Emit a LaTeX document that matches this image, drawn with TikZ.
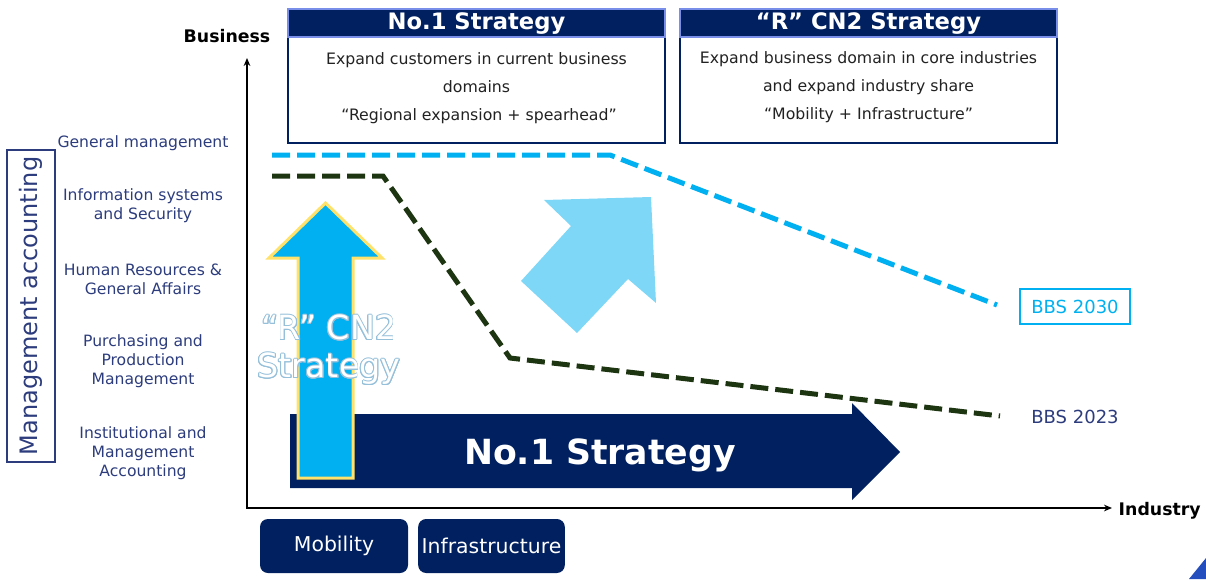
\documentclass[tikz,border=0pt]{standalone}
\usepackage{fontspec}
\setmainfont{DejaVu Sans}
\usetikzlibrary{arrows.meta}

\definecolor{navy}{RGB}{0,32,96}
\definecolor{hdrline}{RGB}{120,142,232}
\definecolor{labelblue}{RGB}{44,60,124}
\definecolor{bodygray}{RGB}{34,34,34}
\definecolor{cyanline}{RGB}{0,176,240}
\definecolor{darkgreen}{RGB}{30,53,18}
\definecolor{skyarrow}{RGB}{127,215,247}
\definecolor{goldline}{RGB}{255,226,107}
\definecolor{outlineblue}{RGB}{150,192,218}
\definecolor{cornerblue}{RGB}{36,78,190}

\tikzset{
  axisline/.style={line width=1.5pt, black, {Stealth[length=6pt,width=5pt]}-{Stealth[length=6pt,width=5pt]}},
  axistitle/.style={font=\fontsize{13}{15}\selectfont\bfseries, text=black},
  lbl/.style={text=labelblue, align=center, font=\fontsize{11.7}{14.25}\selectfont},
  hdrbar/.style={fill=navy, draw=hdrline, line width=1.2pt},
  bodybox/.style={fill=white, draw=navy, line width=1.5pt},
  bodytxt/.style={text=bodygray, align=center, font=\fontsize{11.8}{21}\selectfont},
  hdrtxt/.style={text=white, font=\fontsize{17}{20}\selectfont\bfseries},
  series2030/.style={cyanline, line width=3.75pt, dash pattern=on 13.5pt off 5.25pt},
  series2023/.style={darkgreen, line width=3.75pt, dash pattern=on 13.5pt off 5.25pt},
  industrybox/.style={fill=navy, rounded corners=6pt, text=white, minimum height=40.5pt,
    font=\fontsize{15.3}{18}\selectfont, inner sep=0pt},
  otxt/.style={align=center, font=\fontsize{25}{28.5}\selectfont},
}

\begin{document}
\begin{tikzpicture}[x=0.75pt,y=-0.75pt]
\useasboundingbox (0,0) rectangle (1206,579);

% axes
\coordinate (origin) at (247,508);
\coordinate (ytip) at (247,58);
\coordinate (xtip) at (1112,508);
\draw[axisline] (ytip) -- (origin) -- (xtip);
\node[axistitle] (business) at (227,36) {Business};
\node[axistitle, anchor=west] (industry) at (1114,511) {Industry};

% management accounting frame and its functions
\node[draw=labelblue, line width=1.1pt, minimum width=36pt, minimum height=234pt,
      inner sep=0pt] (mgmtbox) at (31,306) {};
\node[text=labelblue, rotate=90, font=\fontsize{18}{20}\selectfont] (mgmt) at (31,306) {Management accounting};
\node[lbl] (gm) at (143,143) {General management};
\node[lbl] (iss) at (143,206) {Information systems\\and Security};
\node[lbl] (hr) at (143,279) {Human Resources \&\\General Affairs};
\node[lbl] (ppm) at (143,361) {Purchasing and\\Production\\Management};
\node[lbl] (ima) at (143,453) {Institutional and\\Management\\Accounting};

% strategy boxes
\draw[bodybox] (288,37) rectangle (665,143);
\draw[hdrbar] (288,9) rectangle (665,37);
\node[hdrtxt, anchor=base] (nohdr) at (476.5,29) {No.1 Strategy};
\node[bodytxt] (notxt) at (476.5,88) {Expand customers in current business\\domains\\\ “Regional expansion + spearhead”};

\draw[bodybox] (680,37) rectangle (1057,143);
\draw[hdrbar] (680,9) rectangle (1057,37);
\node[hdrtxt, anchor=base] (rhdr) at (868.5,29) {“R” CN2 Strategy};
\node[bodytxt] (rtxt) at (868.5,87) {Expand business domain in core industries\\and expand industry share\\“Mobility + Infrastructure”};

% No.1 strategy arrow
\fill[navy] (290,414) -- (852,414) -- (852,403) -- (900,452) -- (852,500) -- (852,488) -- (290,488) -- cycle;
\node[text=white, font=\fontsize{26}{30}\selectfont\bfseries, anchor=base] (nobig) at (600,464) {No.1 Strategy};

% "R" CN2 strategy arrow
\filldraw[fill=cyanline, draw=goldline, line width=2.25pt, line join=miter]
  (298,478) -- (298,258) -- (269,258) -- (325.5,203) -- (382,258) -- (353,258) -- (353,478) -- cycle;
\foreach \a in {0,22.5,...,337.5}
  \node[otxt, text=outlineblue, shift={(\a:0.7pt)}] at (329,350) {“R” CN2\\Strategy};
\node[otxt, text=white] (rvert) at (329,350) {“R” CN2\\Strategy};

% diagonal growth arrow
\fill[skyarrow] (544,200) -- (651,197) -- (656,303) -- (628,279) -- (577,333) -- (521,281) -- (571,226) -- cycle;

% BBS series
\coordinate (c0) at (272,155);
\coordinate (c1) at (610,155);
\coordinate (c2) at (997,305);
\draw[series2030] (c0) -- (c1) -- (c2);
\coordinate (g0) at (272,176);
\coordinate (g1) at (383,176);
\coordinate (g2) at (510,358);
\coordinate (g3) at (1000,416);
\draw[series2023] (g0) -- (g1) -- (g2) -- (g3);
\node[draw=cyanline, line width=1.1pt, minimum width=82.5pt, minimum height=26.25pt,
      text=cyanline, font=\fontsize{13.5}{15}\selectfont] (bbs30) at (1075,306.5) {BBS 2030};
\node[text=labelblue, font=\fontsize{13.5}{15}\selectfont] (bbs23) at (1075,417) {BBS 2023};

% industries
\node[industrybox, minimum width=111pt] (mob) at (334,546) {Mobility};
\node[industrybox, minimum width=110pt] (infra) at (491.5,546) {Infrastructure};

% corner accent
\fill[cornerblue] (1189,579) -- (1206,558) -- (1206,579) -- cycle;
\end{tikzpicture}
\end{document}
